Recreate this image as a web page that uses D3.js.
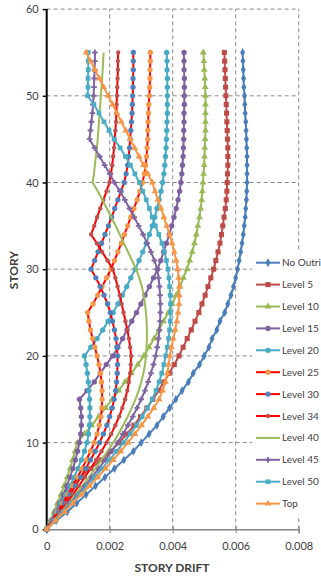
<!DOCTYPE html>
<html>
<head>
<meta charset="utf-8">
<script src="https://cdn.jsdelivr.net/npm/d3@7"></script>
<style>
  body { margin: 0; background: #fff; }
  svg { display: block; font-family: Lato, "Open Sans", sans-serif; }
</style>
</head>
<body>
<svg width="321" height="577"></svg>
<script>
// story drift, floors 0..55, in units of 1e-4
const noOutri = [0,3,6.5,9.5,12.5,15.5,18.5,21.5,24.5,27.5,30,32.5,35,37,39,41,43,45,46.5,48.5,50,51.5,52.5,54,55,56.5,57.5,58.5,59.3,60,60.6,61.1,61.6,62,62.4,62.7,63,63.2,63.4,63.5,63.6,63.6,63.6,63.6,63.5,63.4,63.3,63.2,63,62.9,62.8,62.6,62.5,62.4,62.3,62.2];
const level5 = [0,1.5,3,4.3,5.6,7,10.5,14,17.2,20.2,23,25.5,27.7,29.8,31.8,33.7,35.5,37.2,38.9,40.5,42,43.3,44.6,45.9,47.1,48.3,49.3,50.3,51.2,52.1,53,53.7,54.4,55,55.5,55.9,56.3,56.7,57,57.2,57.3,57.4,57.5,57.5,57.5,57.4,57.3,57.2,57.1,57,56.9,56.8,56.7,56.6,56.5,56.4];
const level10 = [0,1.2,2.3,3.4,4.5,5.5,6.5,7.4,8.2,9,9.7,12,14.3,16.5,18.7,20.8,22.9,24.9,26.9,28.9,30.8,32.5,34.1,35.6,37.1,38.6,39.9,41.1,42.3,43.4,44.5,45.4,46.2,46.9,47.5,48,48.5,48.9,49.2,49.4,49.6,49.8,50,50.1,50.2,50.3,50.4,50.4,50.4,50.4,50.4,50.3,50.2,50,49.9,49.7];
const level15 = [0,1.4,2.8,4.1,5.3,6.4,7.4,8.3,9.1,9.8,10.4,10.8,11,11,10.8,10.4,12.8,15.1,17,18.9,21,22.6,24.1,25.5,27,28.5,29.9,31.2,32.6,33.9,35.2,36.2,37.1,38,38.9,39.7,40.4,41.1,41.7,42.2,42.6,42.9,43.1,43.3,43.4,43.5,43.5,43.6,43.6,43.7,43.7,43.7,43.7,43.6,43.6,43.6];
const level20 = [0,1.5,3,4.5,6,7.4,8.7,9.9,11,12,12.8,13.3,13.6,13.7,13.7,13.6,13.4,13.2,12.9,12.5,12,14,16,17.8,19.5,21.1,22.6,24,25.4,26.7,28.1,29.3,30.5,31.6,32.6,33.5,34.3,35,35.7,36.3,36.8,37.2,37.5,37.7,37.9,38,38.1,38.2,38.3,38.3,38.3,38.3,38.3,38.2,38.2,38.1];
const level25 = [0,1.7,3.4,5.1,6.7,8.3,9.8,11.2,12.6,13.9,15.1,16,16.7,17.2,17.5,17.6,17.6,17.4,17.1,16.6,16,15.3,14.6,13.9,13.4,13,14.7,16.2,17.6,19,20.4,21.5,22.6,23.7,24.7,25.7,26.7,27.7,28.7,29.6,30.4,31,31.4,31.7,31.9,32.1,32.1,32.2,32.3,32.4,32.6,32.7,32.8,32.8,32.9,32.9];
const level30 = [0,1.9,3.8,5.6,7.4,9.1,10.8,12.4,13.9,15.4,16.8,18,19.1,20,20.8,21.4,21.9,22.2,22.4,22.5,22.5,22.3,22,21.5,20.9,20.2,19.3,18.2,17,15.6,14.1,15.2,16.3,17.4,18.5,19.6,20.6,21.6,22.6,23.6,24.6,25.2,25.7,26,26.3,26.5,26.7,26.9,27.1,27.2,27.3,27.4,27.4,27.5,27.5,27.5];
const level34 = [0,2.1,4.2,6.3,8.3,10.2,12.1,13.9,15.7,17.4,19,20.5,21.8,23,24,24.9,25.6,26.1,26.5,26.7,26.8,26.5,26.1,25.6,25,24.4,23.8,23.2,22.5,21.8,21,19.3,17.6,15.9,14.1,15.1,16,17,18,19,19.9,20.4,20.8,21.1,21.4,21.6,21.8,22,22.1,22.2,22.3,22.4,22.5,22.6,22.6,22.7];
const level40 = [0,2.3,4.6,6.9,9.1,11.3,13.4,15.4,17.4,19.3,21.1,22.8,24.3,25.7,27,28.2,29.2,30,30.7,31.2,31.5,31.7,31.8,31.8,31.7,31.5,31.2,30.8,30.2,29.4,28.4,27.1,25.8,24.5,23.2,21.9,20.5,19.1,17.7,16.2,14.6,15,15.3,15.6,15.9,16.2,16.4,16.6,16.8,17,17.2,17.4,17.6,17.8,17.9,18.1];
const level45 = [0,2.5,5,7.4,9.8,12.1,14.3,16.5,18.6,20.6,22.5,24.2,25.8,27.3,28.7,30,31.2,32.2,33.1,33.9,34.6,35.1,35.5,35.8,36,36.1,36.1,36,35.8,35.5,35.1,34.2,33.1,31.9,30.6,29.2,27.8,26.3,24.8,23.2,21.5,20,18.4,16.8,15.2,13.6,13.9,14.2,14.5,14.7,14.9,15,15.1,15.2,15.3,15.3];
const level50 = [0,2.6,5.2,7.8,10.3,12.8,15.2,17.6,19.9,22.2,24.4,26.5,28.5,30.3,32,33.5,34.7,35.7,36.5,37.2,37.8,38.3,38.7,39,39.2,39.3,39.3,39.2,39,38.8,38.5,38,37.4,36.6,35.6,34.5,33.5,32.6,31.6,30.5,29.4,28,26.6,25,23.3,21.4,19.8,18.2,16.6,15,13,13.1,13.1,13.2,13.2,13.2];
const top_ = [0,2.8,5.6,8.3,11,13.6,16.2,18.7,21.1,23.5,25.8,28,30.1,32.1,34,35.7,36.8,37.7,38.3,38.7,39.1,39.6,40.2,40.8,41.3,41.7,42,42.1,42.1,41.9,41.6,41.1,40.5,39.8,39,38.1,37.2,36.3,35.3,34.4,33.5,32.1,30.7,29.3,27.9,26.5,25.1,23.7,22.3,20.9,19.5,18.1,16.7,15.3,13.9,12.5];

const seriesNames = ['No Outri', 'Level 5', 'Level 10', 'Level 15', 'Level 20', 'Level 25',
  'Level 30', 'Level 34', 'Level 40', 'Level 45', 'Level 50', 'Top'];
const seriesValues = [noOutri, level5, level10, level15, level20, level25,
  level30, level34, level40, level45, level50, top_];

const xTicks = [0, 0.002, 0.004, 0.006, 0.008];
const yTicks = [0, 10, 20, 30, 40, 50, 60];

// look of every series: line colour, marker colour, marker shape
const styles = [
  { line: '#4A7EBB', mark: '#4A7EBB', sym: d3.symbolDiamond, size: 22 },
  { line: '#BE4B48', mark: '#BE4B48', sym: d3.symbolSquare, size: 26 },
  { line: '#98B954', mark: '#98B954', sym: d3.symbolTriangle, size: 20 },
  { line: '#7D60A0', mark: '#7D60A0', sym: d3.symbolCircle, size: 22 },
  { line: '#46AAC5', mark: '#46AAC5', sym: d3.symbolCircle, size: 22 },
  { line: '#FF0000', mark: '#F79646', sym: d3.symbolCircle, size: 22 },
  { line: '#FF0000', mark: '#4F81BD', sym: d3.symbolCircle, size: 22 },
  { line: '#FF0000', mark: '#C0504D', sym: d3.symbolCircle, size: 15 },
  { line: '#9BBB59', mark: null, sym: null, size: 0 },
  { line: '#8064A2', mark: '#8064A2', sym: d3.symbolCross, size: 18 },
  { line: '#4BACC6', mark: '#4BACC6', sym: d3.symbolSquare, size: 22 },
  { line: '#F79646', mark: '#F79646', sym: d3.symbolTriangle, size: 20 },
];

const svg = d3.select('svg');
const x = d3.scaleLinear().domain([0, 0.008]).range([46.7, 298.7]);
const y = d3.scaleLinear().domain([0, 60]).range([529.3, 9.1]);

// grid
const grid = svg.append('g').attr('stroke', '#8a8a8a').attr('stroke-dasharray', '4,3').attr('stroke-width', 1);
grid.selectAll('line.h').data(yTicks.filter((d) => d > 0)).join('line')
  .attr('class', 'h')
  .attr('x1', x(0)).attr('x2', x(0.008))
  .attr('y1', (d) => y(d)).attr('y2', (d) => y(d));
grid.selectAll('line.v').data(xTicks.filter((d) => d > 0)).join('line')
  .attr('class', 'v')
  .attr('x1', (d) => x(d)).attr('x2', (d) => x(d))
  .attr('y1', y(0)).attr('y2', y(60));

// legend box sits over the grid
const legendTop = 251, legendStep = 21.9;
svg.append('rect').attr('x', 252).attr('y', legendTop).attr('width', 69).attr('height', 264).attr('fill', '#fff');

// axes
const xAxis = svg.append('g').attr('transform', `translate(0,${y(0)})`)
  .call(d3.axisBottom(x).tickValues(xTicks).tickSize(4).tickFormat(d3.format('')));
xAxis.select('.domain').attr('stroke', '#868686').attr('stroke-width', 1.5);
xAxis.selectAll('.tick line').attr('stroke', '#868686').attr('y1', -3);
xAxis.selectAll('.tick text').attr('dy', '1.25em').attr('font-size', 11).attr('fill', '#404040').attr('font-family', 'Lato, sans-serif');

const yAxis = svg.append('g').attr('transform', `translate(${x(0)},0)`)
  .call(d3.axisLeft(y).tickValues(yTicks).tickSize(4));
yAxis.select('.domain').attr('stroke', '#000').attr('stroke-width', 2).attr('d', `M0,${y(0)}V${y(60)}`);
yAxis.selectAll('.tick line').attr('stroke', '#000').attr('stroke-width', 1.5);
yAxis.selectAll('.tick text').attr('x', -8).attr('font-size', 11).attr('fill', '#404040').attr('font-family', 'Lato, sans-serif');

svg.append('text').attr('x', 172).attr('y', 572).attr('text-anchor', 'middle')
  .attr('font-size', 12).attr('font-weight', 'bold').attr('fill', '#404040').text('STORY DRIFT');
svg.append('text').attr('transform', 'translate(18,270) rotate(-90)').attr('text-anchor', 'middle')
  .attr('font-size', 12).attr('font-weight', 'bold').attr('fill', '#404040').text('STORY');

// series
const series = seriesNames.map((name, i) => ({
  name,
  style: styles[i],
  points: seriesValues[i].map((v, story) => ({ story, drift: v * 1e-4 })),
}));

const line = d3.line().x((d) => x(d.drift)).y((d) => y(d.story));
const plot = svg.append('g');
series.forEach((s) => {
  const g = plot.append('g');
  g.append('path').attr('d', line(s.points)).attr('fill', 'none')
    .attr('stroke', s.style.line).attr('stroke-width', 2).attr('stroke-linejoin', 'round');
  if (s.style.sym) {
    g.selectAll('path.m').data(s.points).join('path').attr('class', 'm')
      .attr('transform', (d) => `translate(${x(d.drift)},${y(d.story)})`)
      .attr('d', d3.symbol(s.style.sym, s.style.size))
      .attr('fill', s.style.mark);
  }
});

// legend
const legend = svg.append('g');
series.forEach((s, i) => {
  const cy = legendTop + 11.7 + i * legendStep;
  const g = legend.append('g').attr('transform', `translate(256,${cy})`);
  g.append('line').attr('x1', 0).attr('x2', 24).attr('stroke', s.style.line).attr('stroke-width', 2);
  if (s.style.sym) {
    g.append('path').attr('transform', 'translate(12,0)')
      .attr('d', d3.symbol(s.style.sym, s.style.size)).attr('fill', s.style.mark);
  }
  g.append('text').attr('x', 26).attr('dy', '0.35em').attr('font-size', 10)
    .attr('fill', '#404040').text(s.name);
});
</script>
</body>
</html>
